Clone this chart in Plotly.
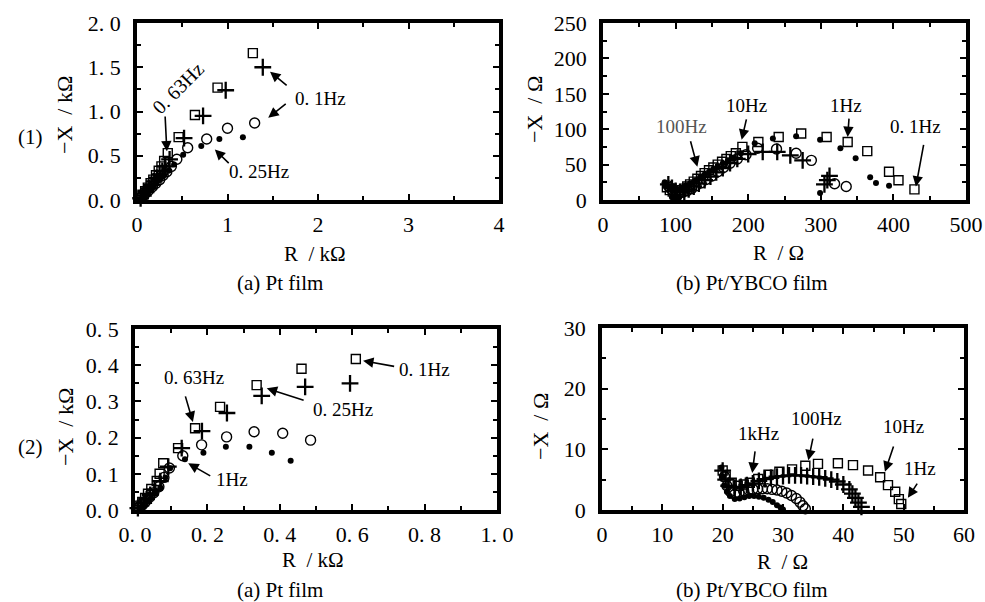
import plotly.graph_objects as go

# ---------------- data ----------------
# Panel (1)(a) Pt film, R / kOhm, -X / kOhm
p1_sq_R = [0.03,0.06,0.09,0.12,0.15,0.18,0.21,0.24,0.27,0.30,0.34,0.46,0.64,0.89,1.28]
p1_sq_X = [0.02,0.06,0.10,0.14,0.19,0.23,0.28,0.33,0.38,0.44,0.53,0.71,0.96,1.27,1.66]
p1_pl_R = [0.04,0.07,0.10,0.13,0.16,0.19,0.22,0.25,0.28,0.31,0.36,0.52,0.73,0.98,1.39]
p1_pl_X = [0.02,0.05,0.09,0.13,0.17,0.21,0.25,0.29,0.33,0.38,0.46,0.70,0.95,1.24,1.50]
p1_ci_R = [0.05,0.09,0.13,0.17,0.21,0.25,0.29,0.33,0.38,0.44,0.56,0.77,1.00,1.30]
p1_ci_X = [0.03,0.07,0.11,0.15,0.19,0.23,0.28,0.32,0.38,0.46,0.59,0.69,0.81,0.87]
p1_do_R = [0.04,0.07,0.10,0.13,0.16,0.19,0.22,0.26,0.30,0.35,0.41,0.51,0.71,0.91,1.17]
p1_do_X = [0.01,0.04,0.07,0.10,0.13,0.17,0.20,0.24,0.28,0.33,0.40,0.51,0.61,0.69,0.71]

# Panel (1)(b) Pt/YBCO film, R / Ohm, -X / Ohm
p2_sq_R = [88,92,96,100,104,108,112,116,120,125,130,135,140,146,152,158,164,170,176,183,192,214,242,273,308,337,364,394,407,429]
p2_sq_X = [18,14,12,11,12,14,16,19,22,26,30,34,38,42,46,50,54,58,62,66,75,82,89,94,89,82,69,40,28,15]
p2_do_R = [85,88,92,96,100,104,108,112,117,122,128,134,140,146,152,158,165,172,180,190,209,234,266,299,327,348,368,376,394,299,95,100,105]
p2_do_X = [25,20,16,14,13,14,16,18,21,24,28,32,36,40,44,48,52,56,60,66,80,87,90,85,73,59,32,24,20,10,4,2,4]
p2_ci_R = [90,95,100,105,110,116,122,128,135,142,150,158,166,175,185,197,213,239,266,287,319,335]
p2_ci_X = [20,15,12,10,11,13,16,20,24,29,34,40,46,52,58,64,73,72,66,56,23,19]
p2_pl_R = [90,95,100,106,112,118,125,132,140,148,156,165,175,185,200,220,240,258,275,309,312,305]
p2_pl_X = [22,17,13,11,12,15,19,23,28,33,39,45,52,58,65,68,68,63,56,28,34,22]

# Panel (2)(a) Pt film, R / kOhm, -X / kOhm
p3_sq_R = [0.005,0.012,0.020,0.028,0.036,0.045,0.060,0.068,0.078,0.119,0.166,0.235,0.336,0.46,0.61]
p3_sq_X = [0.005,0.012,0.022,0.033,0.045,0.058,0.080,0.100,0.129,0.171,0.226,0.285,0.345,0.39,0.417]
p3_pl_R = [0.008,0.016,0.024,0.032,0.042,0.054,0.070,0.092,0.129,0.185,0.254,0.35,0.47,0.594]
p3_pl_X = [0.005,0.012,0.020,0.030,0.042,0.056,0.080,0.120,0.171,0.218,0.268,0.315,0.34,0.35]
p3_ci_R = [0.010,0.020,0.030,0.040,0.052,0.066,0.080,0.095,0.132,0.184,0.253,0.329,0.408,0.485]
p3_ci_X = [0.006,0.014,0.024,0.035,0.048,0.064,0.090,0.116,0.150,0.180,0.202,0.216,0.212,0.193]
p3_do_R = [0.012,0.022,0.032,0.044,0.056,0.070,0.084,0.097,0.138,0.189,0.251,0.316,0.378,0.43]
p3_do_X = [0.005,0.012,0.022,0.033,0.046,0.062,0.090,0.115,0.140,0.158,0.175,0.175,0.158,0.136]

# Panel (2)(b) Pt/YBCO film, R / Ohm, -X / Ohm
p4_sq_R = [20.0,20.5,21.5,22.5,23.5,24.5,25.9,27.6,29.4,31.5,33.7,35.8,39.1,41.6,44.1,46.1,47.4,48.6,49.2,49.6]
p4_sq_X = [6.5,5.5,4.5,4.0,4.2,4.5,5.1,5.8,6.3,6.7,7.3,7.6,7.7,7.4,6.5,5.4,4.1,3.0,1.8,1.0]
p4_pl_R = [20,20.5,21,22,23,24,25,26,27,28,29,30,31,32,33,34,35,36,37,38,39,40,41,41.5,42,42.5,43]
p4_pl_X = [6.5,5.0,4.0,3.7,3.8,4.1,4.4,4.8,5.1,5.3,5.5,5.6,5.7,5.7,5.7,5.6,5.5,5.4,5.2,5.0,4.7,4.2,3.4,2.7,2.0,1.2,0.5]
p4_ci_R = [20.3,20.7,21.3,22,22.7,23.5,24.3,25,25.8,26.6,27.4,28.2,29,29.8,30.6,31.4,32.2,32.8,33.3,33.7]
p4_ci_X = [5.5,4.0,3.0,2.6,2.8,3.1,3.3,3.4,3.5,3.5,3.5,3.4,3.3,3.1,2.8,2.4,1.9,1.3,0.7,0.2]
p4_do_R = [19.8,20,20.3,20.7,21.2,22,22.8,23.6,24.4,25.2,26,26.8,27.6,28.3,29,29.6,30]
p4_do_X = [7.0,5.5,4.0,3.0,2.3,1.8,1.9,2.1,2.3,2.3,2.2,2.0,1.7,1.3,0.8,0.4,0.1]

# tick labels
p1_xt = [0, 1, 2, 3, 4]
p1_yt = [0, 0.5, 1.0, 1.5, 2.0]
p1_ytl = ["0. 0", "0. 5", "1. 0", "1. 5", "2. 0"]
p2_xt = [0, 100, 200, 300, 400, 500]
p2_yt = [0, 50, 100, 150, 200, 250]
p3_xt = [0, 0.2, 0.4, 0.6, 0.8, 1.0]
p3_xtl = ["0. 0", "0. 2", "0. 4", "0. 6", "0. 8", "1. 0"]
p3_yt = [0, 0.1, 0.2, 0.3, 0.4, 0.5]
p3_ytl = ["0. 0", "0. 1", "0. 2", "0. 3", "0. 4", "0. 5"]
p4_xt = [0, 10, 20, 30, 40, 50, 60]
p4_yt = [0, 10, 20, 30]

FONT = "Liberation Serif"
fig = go.Figure()

def add_series(xa, ya, sqR, sqX, plR, plX, ciR, ciX, doR, doX):
    common = dict(mode="markers", xaxis=xa, yaxis=ya, showlegend=False, cliponaxis=False)
    fig.add_trace(go.Scatter(x=ciR, y=ciX, marker=dict(symbol="circle-open", size=10, color="black", line=dict(width=1.4)), **common))
    fig.add_trace(go.Scatter(x=sqR, y=sqX, marker=dict(symbol="square-open", size=9, color="black", line=dict(width=1.4)), **common))
    fig.add_trace(go.Scatter(x=plR, y=plX, marker=dict(symbol="cross-thin-open", size=12, color="black", line=dict(width=2.3)), **common))
    fig.add_trace(go.Scatter(x=doR, y=doX, marker=dict(symbol="circle", size=6, color="black"), **common))

add_series("x", "y", p1_sq_R, p1_sq_X, p1_pl_R, p1_pl_X, p1_ci_R, p1_ci_X, p1_do_R, p1_do_X)
add_series("x2", "y2", p2_sq_R, p2_sq_X, p2_pl_R, p2_pl_X, p2_ci_R, p2_ci_X, p2_do_R, p2_do_X)
add_series("x3", "y3", p3_sq_R, p3_sq_X, p3_pl_R, p3_pl_X, p3_ci_R, p3_ci_X, p3_do_R, p3_do_X)
add_series("x4", "y4", p4_sq_R, p4_sq_X, p4_pl_R, p4_pl_X, p4_ci_R, p4_ci_X, p4_do_R, p4_do_X)

W, H = 985, 602
def px(x0, x1):
    return [x0 / W, x1 / W]
def py(y_top, y_bot):
    return [1 - y_bot / H, 1 - y_top / H]

def axis(domain, rng, tv, tt, minor_dtick, anchor, is_x):
    d = dict(domain=domain, range=rng, anchor=anchor, showgrid=False, zeroline=False,
             showline=True, linewidth=3.5, linecolor="black", mirror="allticks",
             ticks="inside", ticklen=6, tickwidth=2, tickcolor="black",
             tickmode="array", tickvals=tv, ticktext=tt, automargin=False,
             tickfont=dict(family=FONT, size=22, color="black"),
             minor=dict(ticks="inside", ticklen=4, tickwidth=2, tickcolor="black",
                        tickmode="linear", tick0=0, dtick=minor_dtick),
             fixedrange=True)
    d["ticklabelstandoff"] = 2 if is_x else 8
    return d

fig.update_layout(
    template="none",
    width=W, height=H, margin=dict(l=0, r=0, t=0, b=0, pad=0, autoexpand=False),
    paper_bgcolor="white", plot_bgcolor="white",
    font=dict(family=FONT, color="black"),
    xaxis=axis(px(137, 499), [0, 4], p1_xt, [str(v) for v in p1_xt], 0.5, "y", True),
    yaxis=axis(py(23, 200), [0, 2], p1_yt, p1_ytl, 0.25, "x", False),
    xaxis2=axis(px(603, 966), [0, 500], p2_xt, [str(v) for v in p2_xt], 50, "y2", True),
    yaxis2=axis(py(23, 200), [0, 250], p2_yt, [str(v) for v in p2_yt], 25, "x2", False),
    xaxis3=axis(px(135, 497), [0, 1.0], p3_xt, p3_xtl, 0.1, "y3", True),
    yaxis3=axis(py(329, 510), [0, 0.5], p3_yt, p3_ytl, 0.05, "x3", False),
    xaxis4=axis(px(602, 964), [0, 60], p4_xt, [str(v) for v in p4_xt], 5, "y4", True),
    yaxis4=axis(py(328, 510), [0, 30], p4_yt, [str(v) for v in p4_yt], 5, "x4", False),
)

ann = []
def ptext(x, y, text, size=20, angle=0):
    ann.append(dict(xref="paper", yref="paper", x=x / W, y=1 - y / H, text=text, showarrow=False,
                    textangle=angle, font=dict(family=FONT, size=size, color="black"),
                    xanchor="center", yanchor="middle"))

# axis titles, captions, row labels
ptext(315, 254, "R  / kΩ", size=21)
ptext(778, 253, "R  / Ω", size=21)
ptext(313, 560, "R  / kΩ", size=21)
ptext(782, 562, "R  / Ω", size=21)
ptext(65, 115, "−X  / kΩ", size=22, angle=-90)
ptext(535, 110, "−X  / Ω", size=22, angle=-90)
ptext(65, 427, "−X  / kΩ", size=22, angle=-90)
ptext(540, 427, "−X  / Ω", size=22, angle=-90)
ptext(280, 283, "(a) Pt film", size=21)
ptext(752, 283, "(b) Pt/YBCO film", size=21)
ptext(280, 590, "(a) Pt film", size=21)
ptext(752, 590, "(b) Pt/YBCO film", size=21)
ptext(30, 137, "(1)", size=21)
ptext(30, 447, "(2)", size=21)

def dtext(xa, ya, x, y, text, angle=0, color="black", size=19):
    ann.append(dict(xref=xa, yref=ya, x=x, y=y, text=text, showarrow=False, textangle=angle,
                    font=dict(family=FONT, size=size, color=color), xanchor="center", yanchor="middle"))

def arrow(xa, ya, tx, ty, hx, hy):
    ann.append(dict(xref=xa, yref=ya, axref=xa, ayref=ya, x=hx, y=hy, ax=tx, ay=ty, text="",
                    showarrow=True, arrowhead=2, arrowsize=1.3, arrowwidth=1.6, arrowcolor="black"))

# panel 1
dtext("x", "y", 0.45, 1.27, "0. 63Hz", angle=-45, size=20)
arrow("x", "y", 0.31, 0.96, 0.33, 0.55)
dtext("x", "y", 2.03, 1.15, "0. 1Hz")
arrow("x", "y", 1.67, 1.28, 1.47, 1.45)
arrow("x", "y", 1.66, 1.10, 1.45, 0.93)
dtext("x", "y", 1.35, 0.32, "0. 25Hz")
arrow("x", "y", 1.03, 0.40, 0.86, 0.57)
# panel 2
dtext("x2", "y2", 108, 104, "100Hz", color="#555555")
arrow("x2", "y2", 120, 85, 130, 47)
dtext("x2", "y2", 198, 133, "10Hz")
arrow("x2", "y2", 198, 116, 191, 85)
dtext("x2", "y2", 335, 133, "1Hz")
arrow("x2", "y2", 339, 117, 337, 89)
dtext("x2", "y2", 430, 104, "0. 1Hz")
arrow("x2", "y2", 442, 80, 431, 19)
# panel 3
dtext("x3", "y3", 0.163, 0.367, "0. 63Hz")
arrow("x3", "y3", 0.138, 0.318, 0.16, 0.243)
dtext("x3", "y3", 0.80, 0.387, "0. 1Hz")
arrow("x3", "y3", 0.72, 0.396, 0.63, 0.412)
dtext("x3", "y3", 0.575, 0.278, "0. 25Hz")
arrow("x3", "y3", 0.47, 0.302, 0.364, 0.336)
dtext("x3", "y3", 0.267, 0.083, "1Hz")
arrow("x3", "y3", 0.212, 0.092, 0.147, 0.129)
# panel 4
dtext("x4", "y4", 25.9, 12.6, "1kHz")
arrow("x4", "y4", 25.4, 9.9, 24.9, 6.1)
dtext("x4", "y4", 35.6, 15.1, "100Hz")
arrow("x4", "y4", 35.0, 12.0, 34.2, 8.2)
dtext("x4", "y4", 49.9, 13.7, "10Hz")
arrow("x4", "y4", 48.4, 10.7, 46.9, 6.3)
dtext("x4", "y4", 52.7, 6.8, "1Hz")
arrow("x4", "y4", 52.4, 4.6, 50.7, 2.0)

fig.update_layout(annotations=ann)
fig.write_html("out.html")
